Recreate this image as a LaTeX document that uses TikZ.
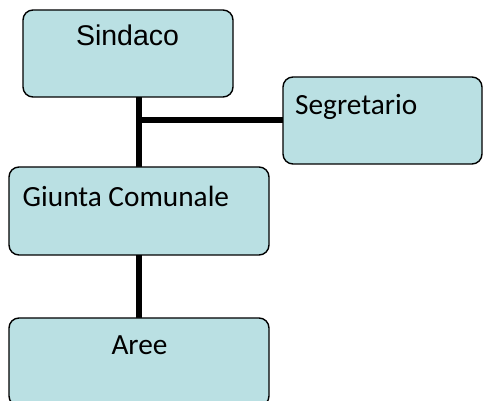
\documentclass[tikz,border=0pt]{standalone}
\usepackage{fontspec}
\setmainfont{Carlito}
\newfontfamily\arialf{Liberation Sans}
\usetikzlibrary{backgrounds}
\definecolor{boxfill}{RGB}{186,224,227}
\begin{document}
\begin{tikzpicture}[x=1pt,y=-1pt,
  orgbox/.style={draw=black, line width=1.4pt, fill=boxfill, rounded corners=10pt,
    inner sep=0pt, outer sep=0pt},
  link/.style={draw=black, line width=6pt},
  lbl/.style={inner sep=0pt, anchor=base, font=\fontsize{29.3}{31}\selectfont}]
\useasboundingbox (0,0) rectangle (483,401);
\node[orgbox, minimum width=210pt, minimum height=87pt] (sindaco) at (128,53.5) {};
\node[orgbox, minimum width=199pt, minimum height=87pt] (segretario) at (382.5,120.5) {};
\node[orgbox, minimum width=260pt, minimum height=88pt] (giunta) at (139,211) {};
\node[orgbox, minimum width=260pt, minimum height=88pt] (aree) at (139,362) {};
\node[lbl, font=\arialf\fontsize{28.5}{31}\selectfont] (tsindaco) at (127.5,46) {Sindaco};
\node[lbl, anchor=base west] (tsegretario) at (295,115) {Segretario};
\node[lbl, anchor=base west] (tgiunta) at (22.5,206.5) {Giunta Comunale};
\node[lbl] (taree) at (139.5,355) {Aree};
\begin{pgfonlayer}{background}
\draw[link] (sindaco.south -| giunta.north) -- (giunta.north);
\draw[link] (segretario.west) -- (segretario.west -| giunta.north);
\draw[link] (giunta.south) -- (aree.north);
\end{pgfonlayer}
\end{tikzpicture}
\end{document}
